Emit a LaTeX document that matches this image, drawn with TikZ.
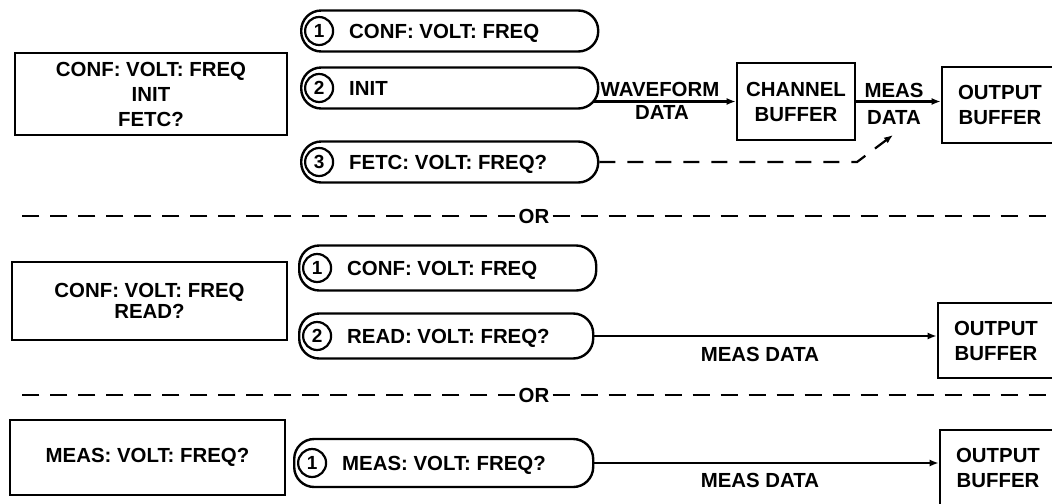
\documentclass[tikz,border=0pt]{standalone}
\usepackage{fontspec}
\setmainfont{Liberation Sans}
\usetikzlibrary{arrows.meta,calc}
\newcommand\dfont{\fontsize{10.2}{12.5}\selectfont\bfseries}
\begin{document}
\begin{tikzpicture}[x=0.5pt,y=-0.5pt,
  every node/.style={font=\dfont},
  cmdbox/.style={draw,line width=1.4pt,align=center,inner sep=0pt},
  pill/.style={draw,line width=1.2pt,rounded corners=10pt,minimum height=20.5pt,inner xsep=24pt,inner ysep=0pt,anchor=west,text height=7.3pt,text depth=0pt},
  numc/.style={draw,circle,line width=1.1pt,minimum size=14pt,inner sep=0pt,anchor=west,font=\fontsize{9.5}{9.5}\selectfont\bfseries},
  bufbox/.style={draw,line width=1.3pt,align=center,inner sep=0pt,minimum width=58pt},
  lbl/.style={inner sep=0pt},
  conn/.style={line width=1.1pt,-{Latex[length=4.5pt,width=3.5pt]}},
  dconn/.style={line width=1.1pt,dash pattern=on 8pt off 6pt,-{Latex[length=4.5pt,width=3.5pt]}},
  divider/.style={line width=1.3pt,dash pattern=on 8.5pt off 5.5pt},
  ornode/.style={fill=white,inner xsep=1.5pt,inner ysep=1pt}
]
\useasboundingbox (0,0) rectangle (1052,503);

% ---------- top section ----------
\node[cmdbox,minimum width=136pt,minimum height=41pt] (L1) at (151,94) {CONF: VOLT: FREQ\\INIT\\FETC?};

\node[pill] (p1) at (300,31) {\makebox[100.5pt][l]{CONF: VOLT: FREQ}};
\node[numc] (n1) at ($(p1.west)+(4,0)$) {1};
\node[pill] (p2) at (300,88) {\makebox[100.5pt][l]{INIT}};
\node[numc] (n2) at ($(p2.west)+(4,0)$) {2};
\node[pill] (p3) at (300,162) {\makebox[100.5pt][l]{FETC: VOLT: FREQ?}};
\node[numc] (n3) at ($(p3.west)+(4,0)$) {3};

\node[bufbox,minimum width=59pt,minimum height=38.5pt] (cb) at (796,101.5) {CHANNEL\\BUFFER};
\node[bufbox,minimum height=38pt] (ob1) at (1000,105) {OUTPUT\\BUFFER};

\draw[conn] ($(p2.east |- cb.west)+(-5,0)$) -- (cb.west);
\node[lbl] (wf) at (660,89) {WAVEFORM};
\node[lbl] (wfd) at (662,112) {DATA};

\draw[conn] (cb.east) -- (cb.east -| ob1.west);
\node[lbl] (md1a) at (894,90) {MEAS};
\node[lbl] (md1b) at (894,117) {DATA};

\coordinate (bend) at (857,162);
\coordinate (tip) at (893,135);
\draw[dconn] (p3.east) -- (bend) -- (tip);

% ---------- divider 1 ----------
\node[ornode] (or1) at (534,216) {OR};
\coordinate (d1l) at (14,216);
\coordinate (d1r) at (1052,216);
\draw[divider] (or1.west) -- (d1l);
\draw[divider] (or1.east) -- (d1r);

% ---------- middle section ----------
\node[cmdbox,minimum width=137.5pt,minimum height=39pt,font=\fontsize{10.2}{10.5}\selectfont\bfseries] (L2) at (149.5,301) {CONF: VOLT: FREQ\\READ?};

\node[pill,minimum height=22.5pt] (pm1) at (298,268) {\makebox[100.5pt][l]{CONF: VOLT: FREQ}};
\node[numc] (nm1) at ($(pm1.west)+(4,0)$) {1};
\node[pill,minimum height=22.5pt] (pm2) at (298,336) {\makebox[99pt][l]{READ: VOLT: FREQ?}};
\node[numc] (nm2) at ($(pm2.west)+(4,0)$) {2};

\node[bufbox,minimum height=37.5pt] (ob2) at (996,340.5) {OUTPUT\\BUFFER};
\draw[conn] (pm2.east) -- (pm2.east -| ob2.west);
\node[lbl] (md2) at (760,354) {MEAS DATA};

% ---------- divider 2 ----------
\node[ornode] (or2) at (534,395) {OR};
\coordinate (d2l) at (14,395);
\coordinate (d2r) at (1052,395);
\draw[divider] (or2.west) -- (d2l);
\draw[divider] (or2.east) -- (d2r);

% ---------- bottom section ----------
\node[cmdbox,minimum width=137.5pt,minimum height=37.5pt] (L3) at (147.5,457.5) {MEAS: VOLT: FREQ?};

\node[pill,minimum height=24pt] (pb1) at (293,463) {\makebox[101.5pt][l]{MEAS: VOLT: FREQ?}};
\node[numc] (nb1) at ($(pb1.west)+(4,0)$) {1};

\node[bufbox,minimum height=37.5pt] (ob3) at (998,467.5) {OUTPUT\\BUFFER};
\draw[conn] (pb1.east) -- (pb1.east -| ob3.west);
\node[lbl] (md3) at (760,480) {MEAS DATA};
\end{tikzpicture}
\end{document}
